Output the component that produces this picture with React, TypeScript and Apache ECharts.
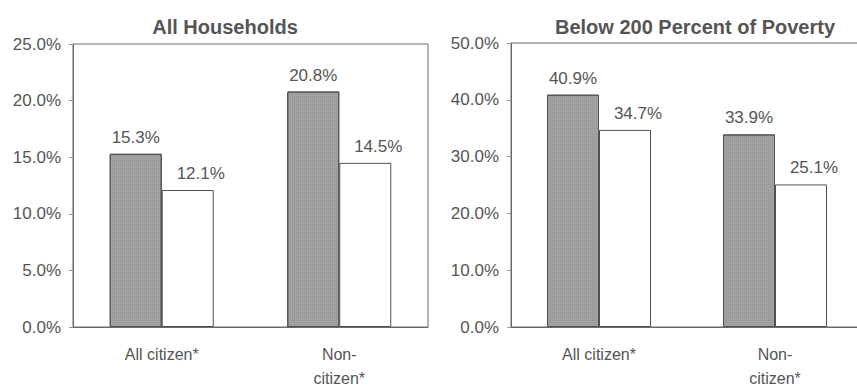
import React, { useEffect, useRef } from "react";
import * as echarts from "echarts";

// Household shares by citizenship, two panels
const categories = ["All citizen*", "Non-\ncitizen*"];
const allHouseholdsA = [15.3, 20.8];
const allHouseholdsB = [12.1, 14.5];
const belowPovertyA = [40.9, 33.9];
const belowPovertyB = [34.7, 25.1];
const panelTitles = ["All Households", "Below 200 Percent of Poverty"];

const FONT = "Liberation Sans, Arial, sans-serif";
const TEXT = "#555555";
const LINE = "#6a6a6a";

const pct = (v: number) => v.toFixed(1) + "%";

export default function App() {
  const ref = useRef<HTMLDivElement>(null);

  useEffect(() => {
    document.body.style.margin = "0";
    const chart = echarts.init(ref.current!, undefined, { renderer: "svg" });

    const yAxis = (idx: number, max: number, interval: number) => ({
      type: "value",
      gridIndex: idx,
      min: 0,
      max,
      interval,
      splitLine: { show: false },
      axisLine: { show: true, lineStyle: { color: LINE, width: 1 } },
      axisTick: { show: true, length: 4, lineStyle: { color: "#999" } },
      axisLabel: {
        margin: 12,
        fontFamily: FONT,
        fontSize: 17,
        color: TEXT,
        formatter: (v: number) => pct(v),
      },
    });

    const xAxis = (idx: number) => ({
      type: "category",
      gridIndex: idx,
      data: categories,
      axisLine: { show: true, lineStyle: { color: LINE, width: 1 } },
      axisTick: { show: false },
      axisLabel: {
        margin: 15,
        fontFamily: FONT,
        fontSize: 16,
        lineHeight: 24,
        color: TEXT,
        verticalAlign: "top",
      },
    });

    const label = (dx: number) => ({
      show: true,
      position: "top",
      distance: 8,
      offset: [dx, 0],
      fontFamily: FONT,
      fontSize: 17,
      color: TEXT,
      formatter: (p: any) => pct(p.value),
    });

    // stippled grey fill for the first series
    const darkStyle = {
      color: "#a4a4a4",
      borderColor: "#505050",
      borderWidth: 1,
      decal: {
        symbol: "rect",
        symbolSize: 1,
        dashArrayX: [1, 1],
        dashArrayY: [1, 1],
        color: "rgba(60,60,60,0.18)",
      },
    };
    const lightStyle = { color: "#ffffff", borderColor: "#505050", borderWidth: 1 };

    const bar = (idx: number, data: number[], dark: boolean) => ({
      type: "bar",
      xAxisIndex: idx,
      yAxisIndex: idx,
      data,
      barWidth: 52,
      barGap: "0%",
      itemStyle: dark ? darkStyle : lightStyle,
      label: label(dark ? 0 : 13),
    });

    const titleStyle = { fontFamily: FONT, fontSize: 20, fontWeight: "bold", color: "#555555" };

    chart.setOption({
      animation: false,
      backgroundColor: "#ffffff",
      title: [
        { text: panelTitles[0], left: 220, textAlign: "center", top: 12, textStyle: titleStyle },
        { text: panelTitles[1], left: 690, textAlign: "center", top: 12, textStyle: titleStyle },
      ],
      grid: [
        { left: 73, top: 44, width: 355, height: 283, show: true, borderColor: LINE, borderWidth: 1, backgroundColor: "transparent", outerBoundsMode: "none" },
        { left: 511, top: 43, width: 352, height: 284, show: true, borderColor: LINE, borderWidth: 1, backgroundColor: "transparent", outerBoundsMode: "none" },
      ],
      xAxis: [xAxis(0), xAxis(1)],
      yAxis: [yAxis(0, 25, 5), yAxis(1, 50, 10)],
      series: [
        bar(0, allHouseholdsA, true),
        bar(0, allHouseholdsB, false),
        bar(1, belowPovertyA, true),
        bar(1, belowPovertyB, false),
      ],
    });

    return () => chart.dispose();
  }, []);

  return <div ref={ref} style={{ width: 857, height: 385 }} />;
}
